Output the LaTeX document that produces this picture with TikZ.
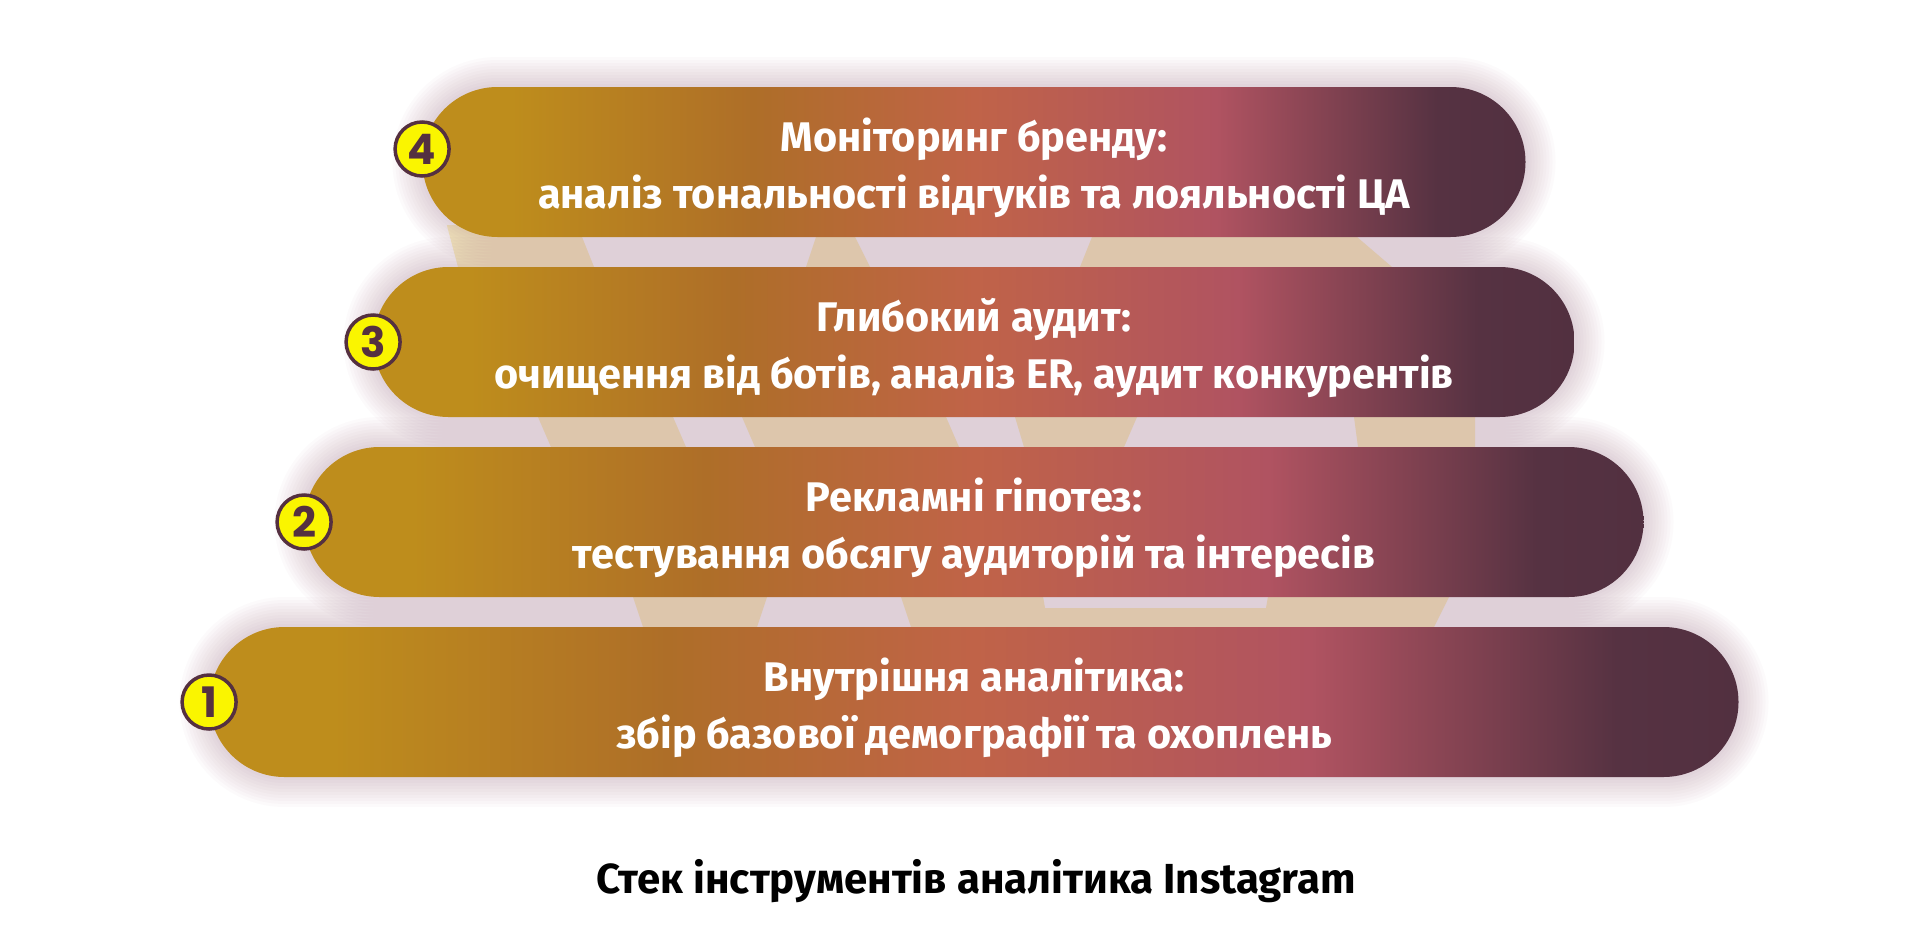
\documentclass[tikz,border=0pt]{standalone}
\usepackage{fontspec}
\setmainfont{Fira Sans}
\newfontfamily\badgefont{Poppins}
\usetikzlibrary{shapes.misc}

\definecolor{goldtone}{RGB}{190,141,28}
\definecolor{browntone}{RGB}{174,110,40}
\definecolor{terratone}{RGB}{192,99,72}
\definecolor{rosetone}{RGB}{176,83,97}
\definecolor{plumtone}{RGB}{86,50,66}
\definecolor{plumend}{RGB}{82,48,64}
\definecolor{plum}{RGB}{85,48,64}
\definecolor{badgeyellow}{RGB}{250,245,0}
\definecolor{paleyellow}{RGB}{252,243,196}
\definecolor{glowtone}{RGB}{140,70,105}

\pgfdeclarehorizontalshading{pillshade}{100bp}{color(0bp)=(goldtone); color(29bp)=(goldtone); color(40bp)=(browntone); color(50bp)=(terratone); color(61bp)=(rosetone); color(71bp)=(plumtone); color(75bp)=(plumend); color(100bp)=(plumend)}

\begin{document}
\begin{tikzpicture}[x=0.5pt,y=-0.5pt,
    pill/.style={rounded rectangle, shading=pillshade, minimum height=75pt, inner sep=0pt},
    pilltext/.style={text=white, align=center, inner sep=0pt, font=\bfseries\fontsize{20.7}{28.7}\selectfont},
    badge/.style={circle, draw=plum, line width=1.75pt, fill=badgeyellow, minimum size=27pt,
      inner sep=0pt, text=plum, font=\badgefont\bfseries\fontsize{21}{21}\selectfont},
    bgshape/.style={fill=paleyellow},
    glow/.style={draw=glowtone, opacity=0.025, line cap=round}]

  % white page, margins included
  \fill[white] (0,0) rectangle (1920,937);
  \useasboundingbox (0,0) rectangle (1920,937);

  % pale shapes behind the bars
  \fill[bgshape] (446.8,225) -- (577.2,225) -- (598.8,279) -- (461.2,279) -- cycle;
  \fill[bgshape] (820,225) -- (849,225) -- (876,279) -- (802,279) -- cycle;
  \fill[bgshape] (1096.8,225) -- (1343,225) -- (1406,279) -- (1075.2,279) -- cycle;
  \fill[bgshape] (532.8,405) -- (667.8,405) -- (691.2,459) -- (556.2,459) -- cycle;
  \fill[bgshape] (736.8,405) -- (940.8,405) -- (964.2,459) -- (760.2,459) -- cycle;
  \fill[bgshape] (1011.4,405) -- (1142.2,405) -- (1118.8,459) -- (1027.6,459) -- cycle;
  \fill[bgshape] (1352.4,405) -- (1475,405) -- (1475,459) -- (1359.6,459) -- cycle;
  \fill[bgshape] (629,585) -- (771,585) -- (753,639) -- (647,639) -- cycle;
  \fill[bgshape] (897,585) -- (1041,585) -- (1045,608) -- (1266,608) -- (1270,585)
    -- (1455,585) -- (1428,639) -- (915,639) -- cycle;

  % soft glow round every bar
  \foreach \cy/\hw in {162/551.5, 342/600.5, 522/669.5, 702/764.5}{
    \foreach \k in {1,...,10}{
      \pgfmathsetmacro\lw{75+3*\k}
      \draw[glow, line width=\lw pt] (974-\hw+75,\cy) -- (974+\hw-75,\cy);
    }
  }

  % the four bars
  \node[pill, minimum width=551.5pt] (p4) at (974,162) {};
  \node[pill, minimum width=600.5pt] (p3) at (974,342) {};
  \node[pill, minimum width=669.5pt] (p2) at (974,522) {};
  \node[pill, minimum width=764.5pt] (p1) at (974,702) {};

  % their texts
  \node[pilltext] (t4) at ([yshift=-3pt]p4.center) {Моніторинг бренду:\\аналіз тональності відгуків та лояльності ЦА};
  \node[pilltext] (t3) at ([yshift=-3pt]p3.center) {Глибокий аудит:\\очищення від ботів, аналіз ER, аудит конкурентів};
  \node[pilltext] (t2) at ([yshift=-3pt]p2.center) {Рекламні гіпотез:\\тестування обсягу аудиторій та інтересів};
  \node[pilltext] (t1) at ([yshift=-3pt]p1.center) {Внутрішня аналітика:\\збір базової демографії та охоплень};

  % numbers on the left ends
  \node[badge, yshift=6.5pt] (b4) at (p4.west) {4};
  \node[badge] (b3) at (p3.west) {3};
  \node[badge] (b2) at (p2.west) {2};
  \node[badge] (b1) at (p1.west) {1};

  % caption
  \node[anchor=base, font=\bfseries\fontsize{21}{25}\selectfont] (caption) at (976,893) {Стек інструментів аналітика Instagram};
\end{tikzpicture}
\end{document}
